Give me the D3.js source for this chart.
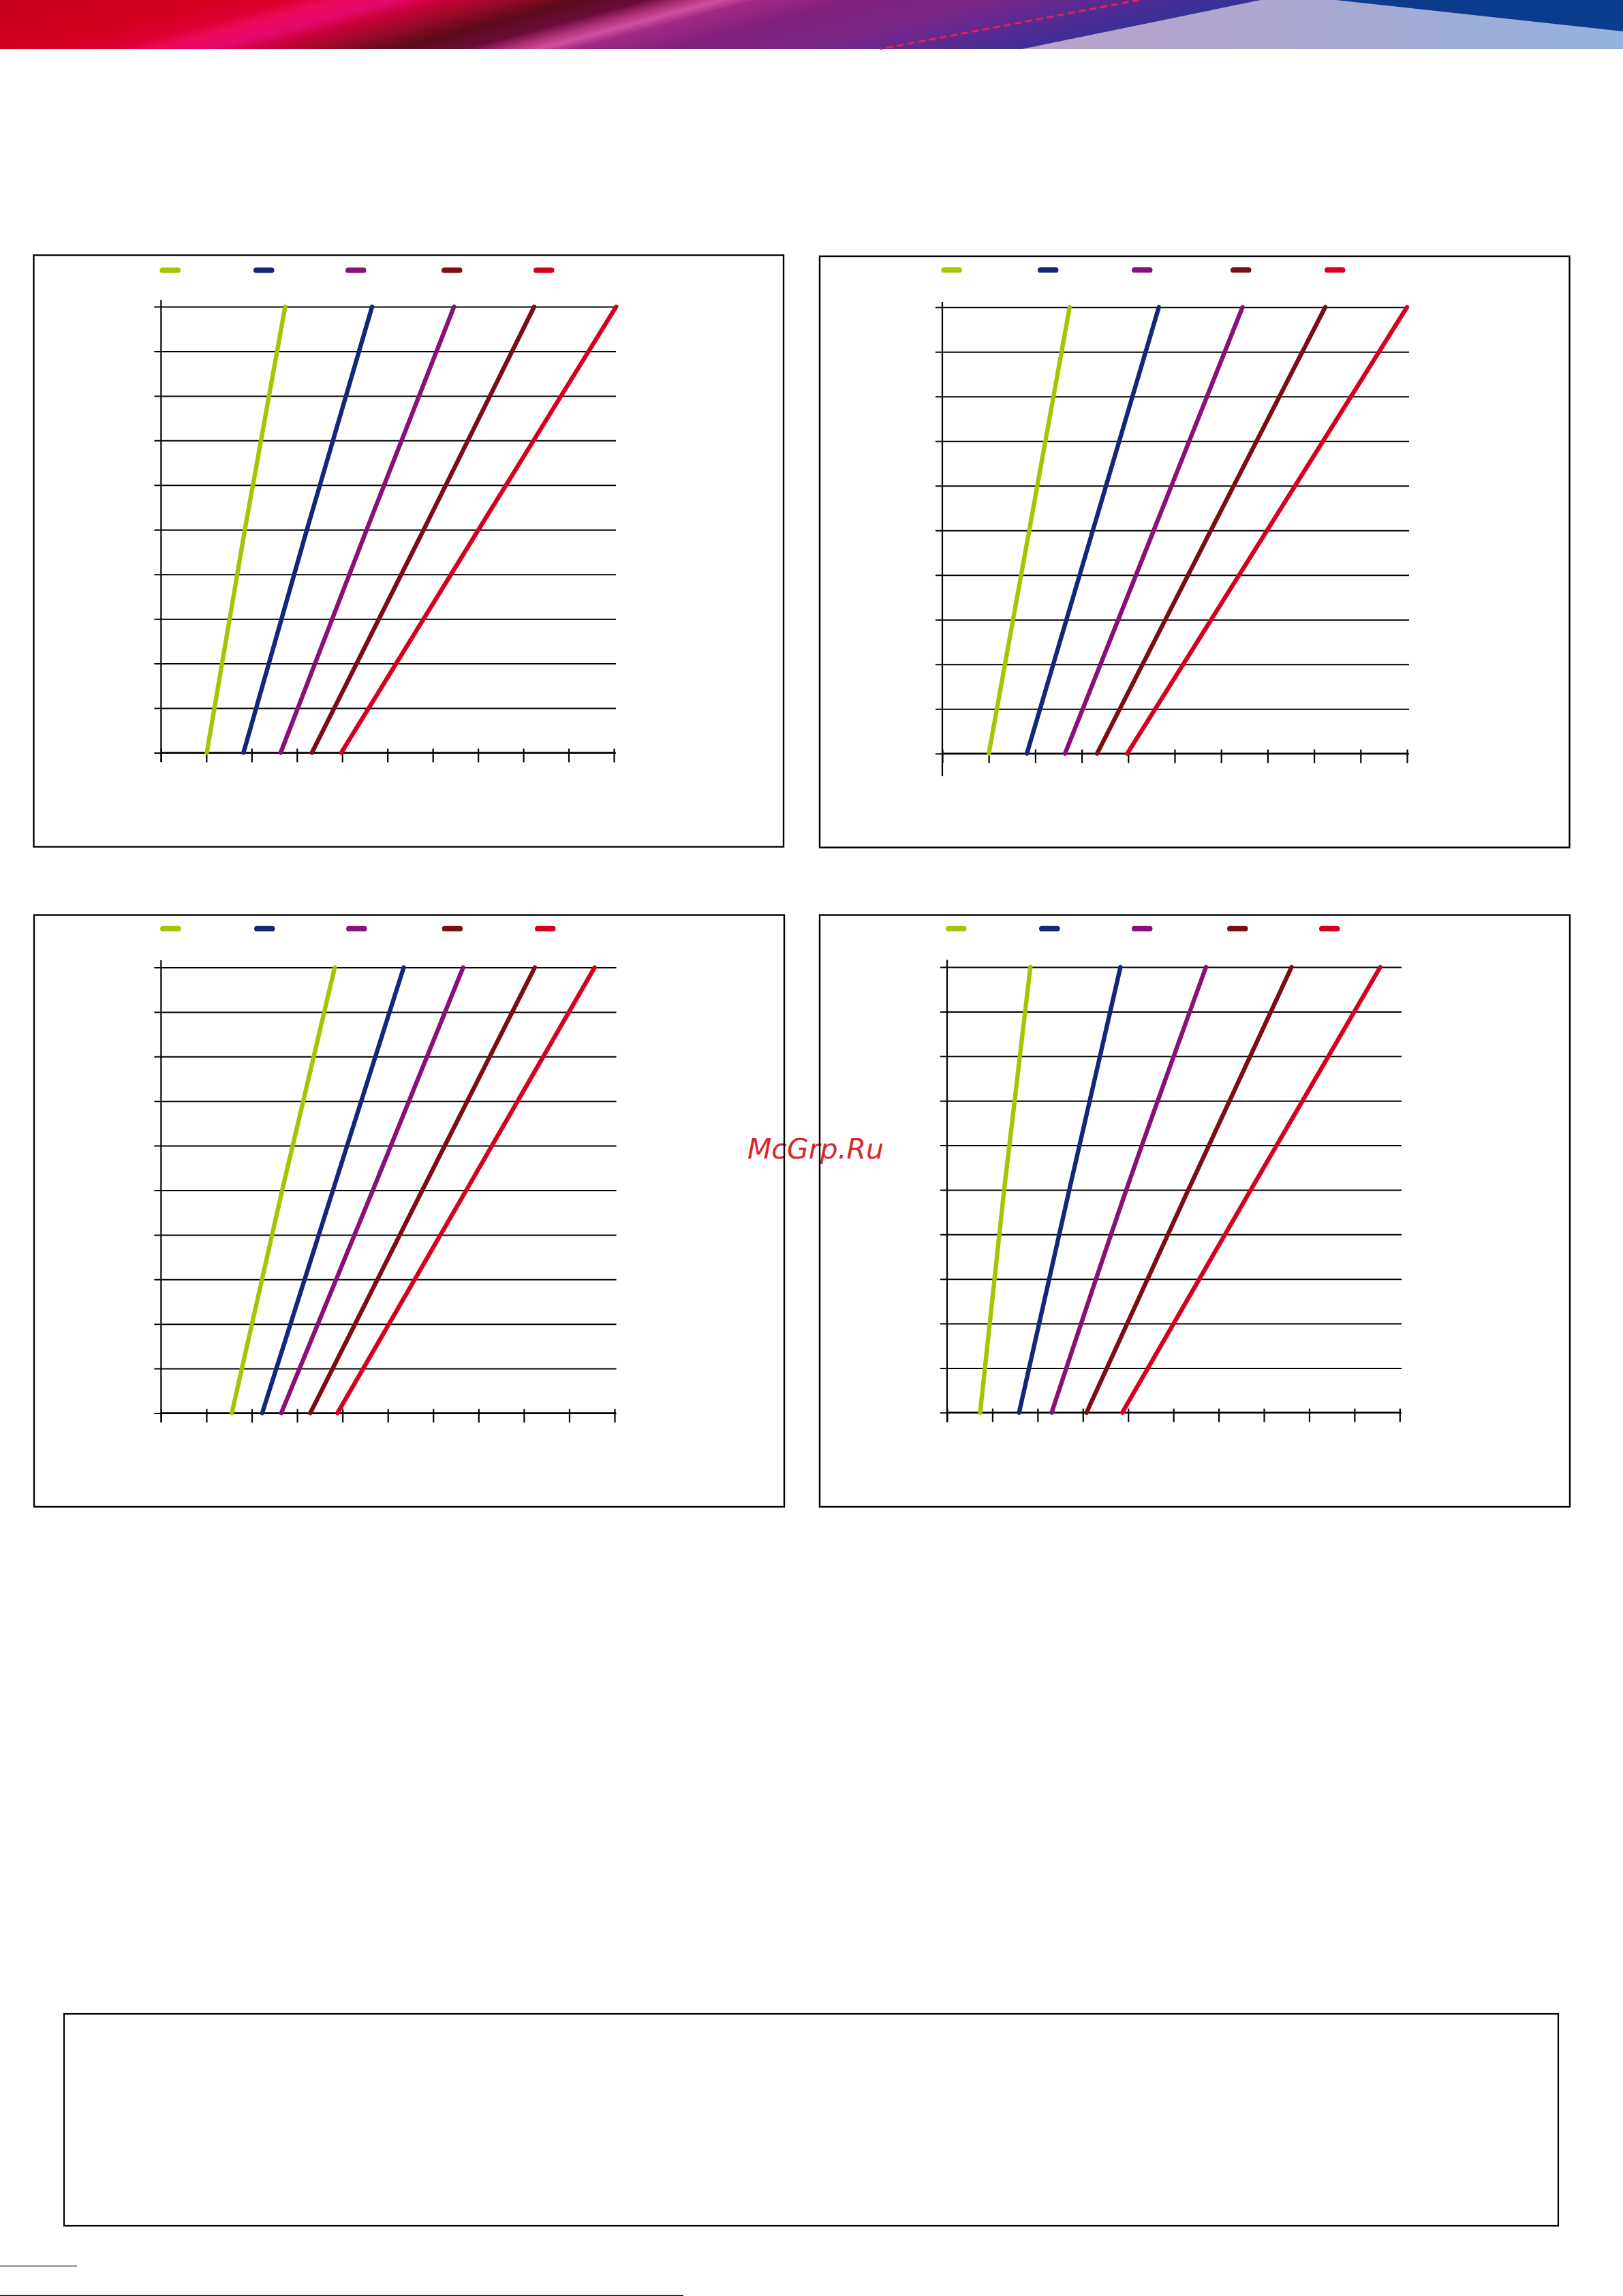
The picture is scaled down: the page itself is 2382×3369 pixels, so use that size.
<!DOCTYPE html>
<html><head><meta charset="utf-8">
<script src="https://cdn.jsdelivr.net/npm/d3@7"></script>
<style>html,body{margin:0;padding:0;background:#fff;} svg{display:block;}</style>
</head><body>
<svg id="page" width="2382" height="3369"></svg>
<script>
// ---------------- data ----------------
const xTickValues = [0,1,2,3,4,5,6,7,8,9,10];
const yTickValues = [0,1,2,3,4,5,6,7,8,9,10];
const seriesKeys = ["green","blue","purple","maroon","red"];
const yLevels = [0,5,10];
// x value of each series at the y levels above, one array per chart
const chartTL = [[1.01,1.85,2.74],[1.82,3.22,4.66],[2.64,4.54,6.47],[3.33,5.80,8.24],[3.98,7.01,10.05]];
const chartTR = [[1.00,1.87,2.74],[1.82,3.24,4.66],[2.64,4.55,6.46],[3.33,5.78,8.24],[3.98,6.99,10.00]];
const chartBL = [[1.56,2.67,3.83],[2.23,3.79,5.35],[2.65,4.67,6.66],[3.29,5.76,8.24],[3.89,6.73,9.56]];
const chartBR = [[0.73,1.26,1.84],[1.59,2.70,3.83],[2.31,3.96,5.72],[3.08,5.33,7.61],[3.87,6.71,9.57]];
const watermarkText = "McGrp.Ru";

// ---------------- styles / layout ----------------
const seriesColors = {green:"#a8c400", blue:"#14267a", purple:"#8a0f78", maroon:"#7c0d12", red:"#d4001e"};
const layouts = [
  {data:chartTL, frame:[49.5,374.5,1100.5,868], ox:236.4, x10:901, oy:1104.5, y10:450, yTop:440, yBot:1118, gridEnd:904, legendY:396.5, legendX:[234.5,372,507,648,783]},
  {data:chartTR, frame:[1203,376,1100.5,867.5], ox:1383, x10:2065, oy:1105.7, y10:450.7, yTop:443, yBot:1139, gridEnd:2068, legendY:396.2, legendX:[1381.4,1523,1661,1806,1944]},
  {data:chartBL, frame:[50,1342.6,1101,868.4], ox:236.4, x10:902, oy:2073.4, y10:1419.6, yTop:1409, yBot:2087, gridEnd:904.5, legendY:1362.7, legendX:[235,373,508,648.6,785]},
  {data:chartBR, frame:[1203,1342.6,1101,868.4], ox:1390, x10:2054.3, oy:2072.8, y10:1419, yTop:1408.6, yBot:2087, gridEnd:2057, legendY:1362.7, legendX:[1388,1525,1661,1801,1936]}
];

const svg = d3.select("#page");
const defs = svg.append("defs");

// ---------------- header band ----------------
const hdrStops = [[0,"#c8001c"],[300,"#d2001e"],[430,"#dc0030"],[500,"#ec0a5c"],[580,"#e4086a"],[650,"#c8003a"],
  [740,"#9a0a28"],[850,"#5c0a1a"],[950,"#6a0c3a"],[1010,"#b0307a"],[1060,"#cf4f9e"],[1110,"#a02a84"],
  [1250,"#82207a"],[1450,"#7a2688"],[1600,"#5e2a92"],[1800,"#3a3096"],[2100,"#3a3aa0"]];
const hg = defs.append("linearGradient").attr("id","hdr").attr("gradientUnits","userSpaceOnUse")
  .attr("x1",0).attr("y1",0).attr("x2",2382).attr("y2",0).attr("gradientTransform","skewX(-75)");
hg.selectAll("stop").data(hdrStops).join("stop").attr("offset",d=>d[0]/2382).attr("stop-color",d=>d[1]);
const lg = defs.append("linearGradient").attr("id","lav").attr("gradientUnits","userSpaceOnUse")
  .attr("x1",1500).attr("y1",0).attr("x2",2382).attr("y2",0);
lg.selectAll("stop").data([[0,"#bba2cb"],[0.5,"#a9a8d2"],[1,"#92b3dd"]]).join("stop")
  .attr("offset",d=>d[0]).attr("stop-color",d=>d[1]);
const hdr = svg.append("g");
hdr.append("rect").attr("x",0).attr("y",0).attr("width",2382).attr("height",72).attr("fill","url(#hdr)");
hdr.append("path").attr("d","M1500,72 L1850,0 L2382,0 L2382,72 Z").attr("fill","url(#lav)");
hdr.append("path").attr("d","M1960,0 L2382,0 L2382,46 Z").attr("fill","#0b3b8c");
hdr.append("path").attr("d","M1672,0 L1292,72").attr("stroke","#e8204c").attr("stroke-width",3).attr("stroke-dasharray","10 6");

// ---------------- watermark (under the frames) ----------------
svg.append("text").attr("x",1097).attr("y",1700).text(watermarkText)
  .attr("font-family","DejaVu Sans").attr("font-style","oblique").attr("font-size",41).attr("fill","#d6282c");

// ---------------- charts ----------------
layouts.forEach(L => {
  const g = svg.append("g");
  const x = d3.scaleLinear().domain([0,10]).range([L.ox, L.x10]);
  const y = d3.scaleLinear().domain([0,10]).range([L.oy, L.y10]);

  g.append("rect").attr("x",L.frame[0]).attr("y",L.frame[1]).attr("width",L.frame[2]).attr("height",L.frame[3])
    .attr("fill","none").attr("stroke","#000").attr("stroke-width",2.4);

  // gridlines + y ticks
  const yg = g.append("g").attr("transform",`translate(${L.ox-10},0)`)
    .call(d3.axisRight(y).tickValues(yTickValues).tickSize(L.gridEnd - L.ox + 10).tickFormat(""));
  yg.select(".domain").remove();
  yg.selectAll(".tick line").attr("stroke","#000").attr("stroke-width",2);

  // y axis line
  g.append("line").attr("x1",L.ox).attr("x2",L.ox).attr("y1",L.yTop).attr("y2",L.yBot)
    .attr("stroke","#000").attr("stroke-width",2.2);

  // x axis
  g.append("line").attr("x1",L.ox).attr("x2",L.x10+2).attr("y1",L.oy).attr("y2",L.oy)
    .attr("stroke","#000").attr("stroke-width",2.4);
  const xg = g.append("g").attr("transform",`translate(0,${L.oy-6})`)
    .call(d3.axisBottom(x).tickValues(xTickValues).tickSize(20).tickSizeOuter(0).tickFormat(""));
  xg.select(".domain").remove();
  xg.selectAll(".tick line").attr("stroke","#000").attr("stroke-width",2.2);

  // series lines
  const line = d3.line().x(d=>x(d[0])).y(d=>y(d[1])).curve(d3.curveMonotoneY);
  L.data.forEach((xs,i) => {
    const pts = xs.map((v,j)=>[v, yLevels[j]]);
    g.append("path").attr("d",line(pts)).attr("fill","none")
      .attr("stroke",seriesColors[seriesKeys[i]]).attr("stroke-width",6.4)
      .attr("stroke-linecap","round").attr("stroke-linejoin","round");
  });

  // legend swatches
  g.selectAll(".sw").data(seriesKeys).join("rect")
    .attr("x",(d,i)=>L.legendX[i]).attr("y",L.legendY-3.9).attr("width",30.5).attr("height",7.8).attr("rx",3.9)
    .attr("fill",d=>seriesColors[d]);
});

// ---------------- bottom box and rules ----------------
svg.append("rect").attr("x",94).attr("y",2955).attr("width",2193).attr("height",311)
  .attr("fill","none").attr("stroke","#000").attr("stroke-width",2.2);
svg.append("line").attr("x1",0).attr("x2",113).attr("y1",3325).attr("y2",3325).attr("stroke","#8c8c8c").attr("stroke-width",2);
svg.append("line").attr("x1",0).attr("x2",1003).attr("y1",3368.5).attr("y2",3368.5).attr("stroke","#000").attr("stroke-width",1.5);
</script>
</body></html>
